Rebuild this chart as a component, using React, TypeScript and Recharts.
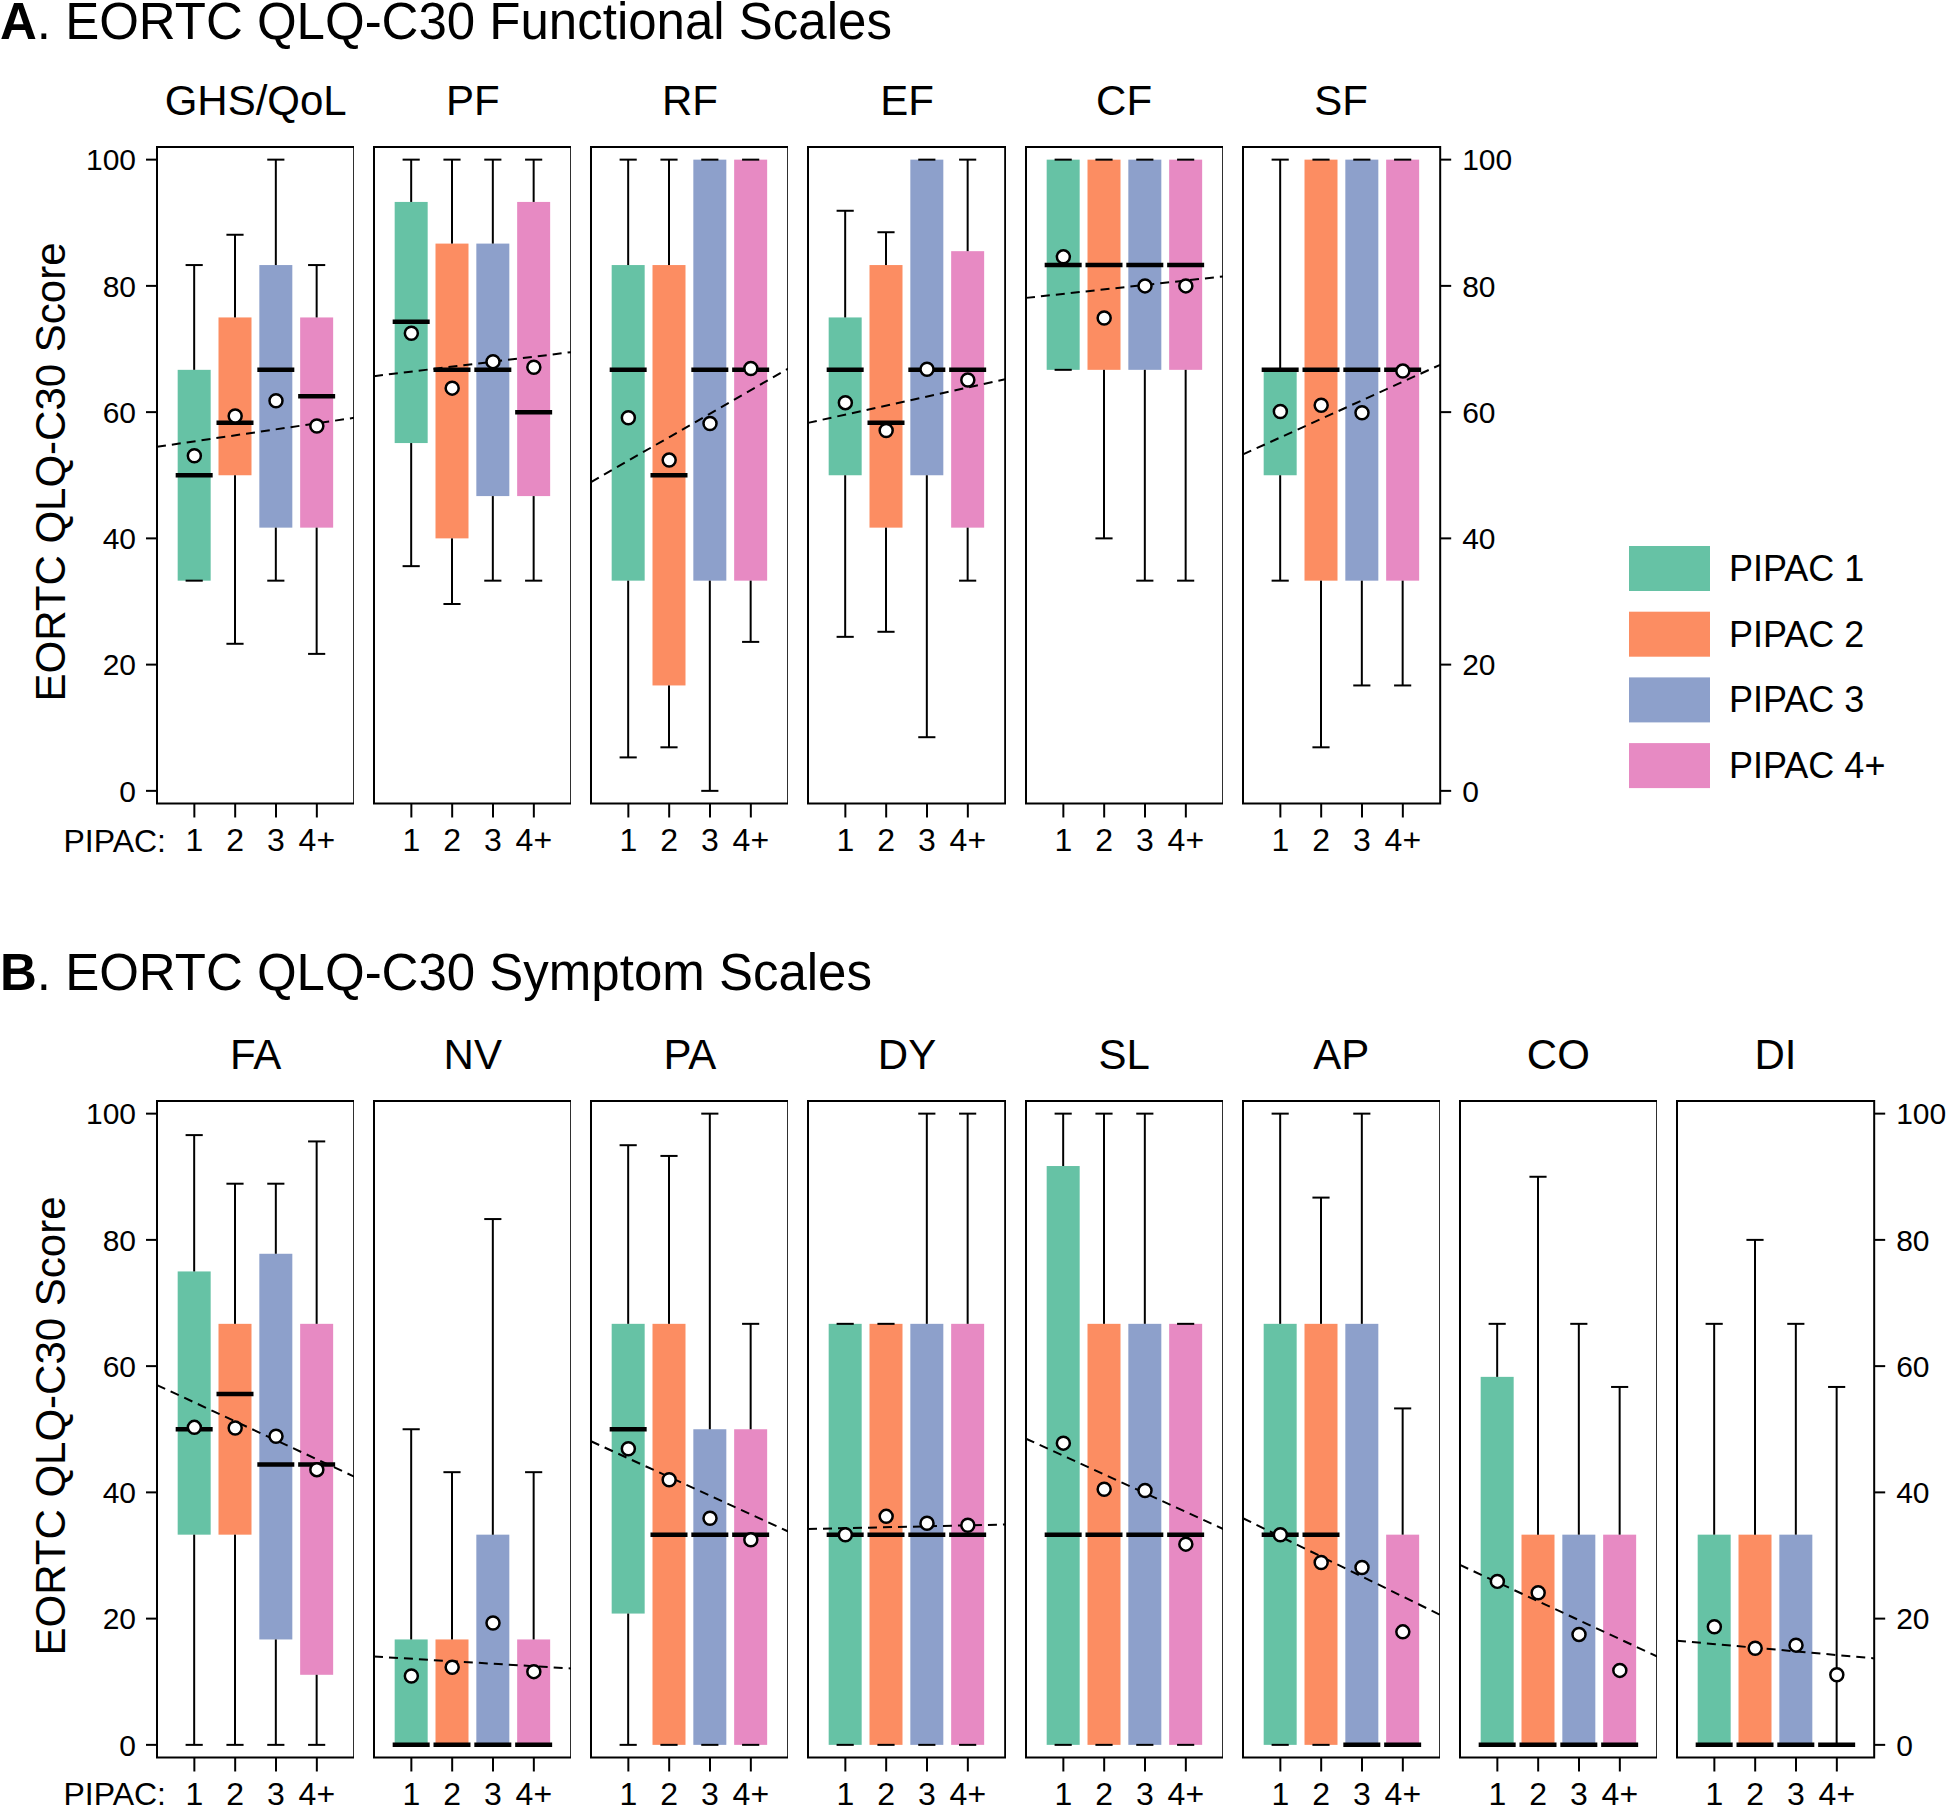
import React from 'react';
import { Bar, ComposedChart, Line, ReferenceArea, Scatter, XAxis, YAxis } from 'recharts';

const FONT = '"Liberation Sans", Arial, Helvetica, sans-serif';

const pipacGroups = [1, 2, 3, 4];
const pipacTickLabels = ['1', '2', '3', '4+'];
const legendLabels = ['PIPAC 1', 'PIPAC 2', 'PIPAC 3', 'PIPAC 4+'];
const pipacColors = ['#66c2a5', '#fc8d62', '#8da0cb', '#e78ac3'];
const scoreTicks = [0, 20, 40, 60, 80, 100];

// each row: [whisker low, Q1, median, Q3, whisker high, mean] for PIPAC 1, 2, 3, 4+
// trend: dashed fit line value at the left and right panel edge
const ghsQol = [
  [33.3, 33.3, 50, 66.7, 83.3, 53.1],
  [23.3, 50, 58.3, 75, 88.1, 59.4],
  [33.3, 41.7, 66.7, 83.3, 100, 61.8],
  [21.7, 41.7, 62.5, 75, 83.3, 57.8],
];
const ghsQolTrend = [54.5, 59.1];

const pf = [
  [35.6, 55.1, 74.3, 93.3, 100, 72.5],
  [29.6, 40, 66.7, 86.7, 100, 63.8],
  [33.3, 46.7, 66.7, 86.7, 100, 68.0],
  [33.3, 46.7, 60, 93.3, 100, 67.1],
];
const pfTrend = [65.7, 69.5];

const rf = [
  [5.3, 33.3, 66.7, 83.3, 100, 59.1],
  [6.9, 16.7, 50, 83.3, 100, 52.4],
  [0, 33.3, 66.7, 100, 100, 58.2],
  [23.6, 33.3, 66.7, 100, 100, 66.9],
];
const rfTrend = [48.9, 66.9];

const ef = [
  [24.4, 50, 66.7, 75, 91.9, 61.5],
  [25.2, 41.7, 58.3, 83.3, 88.5, 57.1],
  [8.5, 50, 66.7, 100, 100, 66.8],
  [33.3, 41.7, 66.7, 85.5, 100, 65.1],
];
const efTrend = [58.3, 65.2];

const cf = [
  [66.7, 66.7, 83.3, 100, 100, 84.6],
  [40, 66.7, 83.3, 100, 100, 74.9],
  [33.3, 66.7, 83.3, 100, 100, 80.0],
  [33.3, 66.7, 83.3, 100, 100, 80.0],
];
const cfTrend = [78.1, 81.5];

const sf = [
  [33.3, 50, 66.7, 66.7, 100, 60.1],
  [6.9, 33.3, 66.7, 100, 100, 61.1],
  [16.7, 33.3, 66.7, 100, 100, 59.9],
  [16.7, 33.3, 66.7, 100, 100, 66.5],
];
const sfTrend = [53.3, 67.5];

const fa = [
  [0, 33.3, 50, 75, 96.6, 50.3],
  [0, 33.3, 55.6, 66.7, 88.9, 50.2],
  [0, 16.7, 44.4, 77.8, 88.9, 48.9],
  [0, 11.1, 44.4, 66.7, 95.6, 43.6],
];
const faTrend = [57.0, 42.5];

const nv = [
  [0, 0, 0, 16.7, 50, 10.9],
  [0, 0, 0, 16.7, 43.2, 12.3],
  [0, 0, 0, 33.3, 83.3, 19.3],
  [0, 0, 0, 16.7, 43.2, 11.6],
];
const nvTrend = [14.0, 12.1];

const pa = [
  [0, 20.8, 50, 66.7, 95, 46.9],
  [0, 0, 33.3, 66.7, 93.3, 42.0],
  [0, 0, 33.3, 50, 100, 35.9],
  [0, 0, 33.3, 50, 66.7, 32.5],
];
const paTrend = [48.1, 33.8];

const dy = [
  [0, 0, 33.3, 66.7, 66.7, 33.3],
  [0, 0, 33.3, 66.7, 66.7, 36.2],
  [0, 0, 33.3, 66.7, 100, 35.1],
  [0, 0, 33.3, 66.7, 100, 34.8],
];
const dyTrend = [34.2, 34.9];

const sl = [
  [0, 0, 33.3, 91.7, 100, 47.8],
  [0, 0, 33.3, 66.7, 100, 40.5],
  [0, 0, 33.3, 66.7, 100, 40.3],
  [0, 0, 33.3, 66.7, 66.7, 31.8],
];
const slTrend = [48.5, 34.2];

const ap = [
  [0, 0, 33.3, 66.7, 100, 33.3],
  [0, 0, 33.3, 66.7, 86.7, 28.9],
  [0, 0, 0, 66.7, 100, 28.1],
  [0, 0, 0, 33.3, 53.3, 17.9],
];
const apTrend = [35.9, 20.6];

const co = [
  [0, 0, 0, 58.3, 66.7, 25.9],
  [0, 0, 0, 33.3, 90, 24.1],
  [0, 0, 0, 33.3, 66.7, 17.5],
  [0, 0, 0, 33.3, 56.7, 11.8],
];
const coTrend = [28.5, 14.0];

const di = [
  [0, 0, 0, 33.3, 66.7, 18.7],
  [0, 0, 0, 33.3, 80, 15.3],
  [0, 0, 0, 33.3, 66.7, 15.8],
  [0, 0, 0, 0, 56.7, 11.1],
];
const diTrend = [16.5, 13.7];

const functionalScales = [
  { name: 'GHS/QoL', boxes: ghsQol, trend: ghsQolTrend },
  { name: 'PF', boxes: pf, trend: pfTrend },
  { name: 'RF', boxes: rf, trend: rfTrend },
  { name: 'EF', boxes: ef, trend: efTrend },
  { name: 'CF', boxes: cf, trend: cfTrend },
  { name: 'SF', boxes: sf, trend: sfTrend },
];

const symptomScales = [
  { name: 'FA', boxes: fa, trend: faTrend },
  { name: 'NV', boxes: nv, trend: nvTrend },
  { name: 'PA', boxes: pa, trend: paTrend },
  { name: 'DY', boxes: dy, trend: dyTrend },
  { name: 'SL', boxes: sl, trend: slTrend },
  { name: 'AP', boxes: ap, trend: apTrend },
  { name: 'CO', boxes: co, trend: coTrend },
  { name: 'DI', boxes: di, trend: diTrend },
];

// layout
const FIRST_LEFT = 157.1;
const PANEL_W = 197.2;
const PANEL_PITCH = 217.1;
const PLOT_H = 656.5;
const AXIS_W = 80;
const XAXIS_H = 60;
const TOP_PAD = 20;
const ROW_A_TOP = 147.4;
const ROW_B_TOP = 1100.9;
const X_MIN = 0.085;
const X_MAX = 4.915;
const Y_MIN = -2;
const Y_MAX = 102;

const yTickStyle = { fontSize: 30, fill: '#000', fontFamily: FONT };
const xTickStyle = { fontSize: 32, fill: '#000', fontFamily: FONT };
const tickLineStyle = { stroke: '#000', strokeWidth: 2 };

function BoxShape(props: any) {
  const { x, y, width, height, payload } = props;
  const [low, q1, med, q3, high] = payload.stats;
  const top = Math.min(y, y + height);
  const bottom = Math.max(y, y + height);
  const py = (v: number) => bottom - ((v - low) / (high - low)) * (bottom - top);
  const cx = x + width / 2;
  const cap = width * 0.26;
  const medHalf = width / 2 + 2;
  return (
    <g>
      <rect x={x} y={py(q3)} width={width} height={Math.max(py(q1) - py(q3), 0)} fill={payload.color} />
      <line x1={cx} x2={cx} y1={py(high)} y2={py(q3)} stroke="#000" strokeWidth={2} />
      <line x1={cx} x2={cx} y1={py(q1)} y2={py(low)} stroke="#000" strokeWidth={2} />
      <line x1={cx - cap} x2={cx + cap} y1={py(high)} y2={py(high)} stroke="#000" strokeWidth={2} />
      <line x1={cx - cap} x2={cx + cap} y1={py(low)} y2={py(low)} stroke="#000" strokeWidth={2} />
      <line x1={cx - medHalf} x2={cx + medHalf} y1={py(med)} y2={py(med)} stroke="#000" strokeWidth={4.5} />
    </g>
  );
}

function MeanDot(props: any) {
  return <circle cx={props.cx} cy={props.cy} r={6.5} fill="#fff" stroke="#000" strokeWidth={2.5} />;
}

function ScalePanel({ scale, index, count, top }: any) {
  const first = index === 0;
  const last = index === count - 1;
  const data = pipacGroups.map((g, i) => ({
    x: g,
    range: [scale.boxes[i][0], scale.boxes[i][4]],
    stats: scale.boxes[i],
    mean: scale.boxes[i][5],
    color: pipacColors[i],
  }));
  const trendData = [
    { x: X_MIN, trend: scale.trend[0] },
    { x: X_MAX, trend: scale.trend[1] },
  ];
  const left = FIRST_LEFT + index * PANEL_PITCH - AXIS_W;
  return (
    <div style={{ position: 'absolute', left, top: top - TOP_PAD }}>
      <ComposedChart
        width={AXIS_W + PANEL_W + (last ? AXIS_W : 0)}
        height={TOP_PAD + PLOT_H + XAXIS_H}
        data={data}
        margin={{ top: TOP_PAD, right: 0, bottom: 0, left: 0 }}
      >
        <XAxis
          type="number"
          dataKey="x"
          domain={[X_MIN, X_MAX]}
          ticks={pipacGroups}
          interval={0}
          tickFormatter={(v: number) => pipacTickLabels[pipacGroups.indexOf(v)]}
          axisLine={false}
          tickLine={tickLineStyle}
          tickSize={14}
          tickMargin={11}
          height={XAXIS_H}
          tick={xTickStyle}
        />
        <YAxis
          type="number"
          domain={[Y_MIN, Y_MAX]}
          ticks={scoreTicks}
          interval={0}
          width={AXIS_W}
          axisLine={false}
          tickLine={tickLineStyle}
          tickSize={first ? 11 : 20}
          tickMargin={10}
          tick={first ? yTickStyle : false}
        />
        {last && (
          <YAxis
            yAxisId="right"
            orientation="right"
            type="number"
            domain={[Y_MIN, Y_MAX]}
            ticks={scoreTicks}
            interval={0}
            width={AXIS_W}
            axisLine={false}
            tickLine={tickLineStyle}
            tickSize={11}
            tickMargin={11}
            tick={yTickStyle}
          />
        )}
        <Bar dataKey="range" barSize={33} shape={BoxShape} isAnimationActive={false} />
        <Line
          data={trendData}
          dataKey="trend"
          stroke="#000"
          strokeWidth={2}
          strokeDasharray="9 6"
          dot={false}
          activeDot={false}
          isAnimationActive={false}
        />
        {last && (
          <Line
            yAxisId="right"
            data={trendData}
            dataKey="trend"
            stroke="none"
            dot={false}
            activeDot={false}
            isAnimationActive={false}
          />
        )}
        <Scatter dataKey="mean" shape={MeanDot} isAnimationActive={false} />
        <ReferenceArea
          x1={X_MIN}
          x2={X_MAX}
          y1={Y_MIN}
          y2={Y_MAX}
          fill="none"
          stroke="#000"
          strokeWidth={2}
          ifOverflow="visible"
        />
      </ComposedChart>
    </div>
  );
}

const panelCenter = (i: number) => FIRST_LEFT + i * PANEL_PITCH + PANEL_W / 2;

export default function App() {
  return (
    <div
      style={{
        position: 'absolute',
        left: 0,
        top: 0,
        width: 1946,
        height: 1807,
        background: '#fff',
        fontFamily: FONT,
        overflow: 'hidden',
      }}
    >
      {functionalScales.map((s, i) => (
        <ScalePanel key={s.name} scale={s} index={i} count={functionalScales.length} top={ROW_A_TOP} />
      ))}
      {symptomScales.map((s, i) => (
        <ScalePanel key={s.name} scale={s} index={i} count={symptomScales.length} top={ROW_B_TOP} />
      ))}

      <svg
        width={1946}
        height={1807}
        style={{ position: 'absolute', left: 0, top: 0, pointerEvents: 'none' }}
        fontFamily={FONT}
      >
        <text x={0} y={39} fontSize={51} fill="#000">
          <tspan fontWeight="bold">A</tspan>. EORTC QLQ-C30 Functional Scales
        </text>
        <text x={0} y={990} fontSize={51} fill="#000">
          <tspan fontWeight="bold">B</tspan>. EORTC QLQ-C30 Symptom Scales
        </text>

        {functionalScales.map((s, i) => (
          <text key={s.name} x={panelCenter(i)} y={115} fontSize={42} textAnchor="middle" fill="#000">
            {s.name}
          </text>
        ))}
        {symptomScales.map((s, i) => (
          <text key={s.name} x={panelCenter(i)} y={1068.5} fontSize={42} textAnchor="middle" fill="#000">
            {s.name}
          </text>
        ))}

        <text transform="translate(65, 472) rotate(-90)" fontSize={42} textAnchor="middle" fill="#000">
          EORTC QLQ-C30 Score
        </text>
        <text transform="translate(65, 1426) rotate(-90)" fontSize={42} textAnchor="middle" fill="#000">
          EORTC QLQ-C30 Score
        </text>

        <text x={166} y={852} fontSize={32} textAnchor="end" fill="#000">
          PIPAC:
        </text>
        <text x={166} y={1805} fontSize={32} textAnchor="end" fill="#000">
          PIPAC:
        </text>

        {legendLabels.map((label, i) => (
          <g key={label}>
            <rect x={1629} y={546 + i * 65.7} width={81} height={45} fill={pipacColors[i]} />
            <text x={1729} y={581 + i * 65.7} fontSize={36} fill="#000">
              {label}
            </text>
          </g>
        ))}
      </svg>
    </div>
  );
}
